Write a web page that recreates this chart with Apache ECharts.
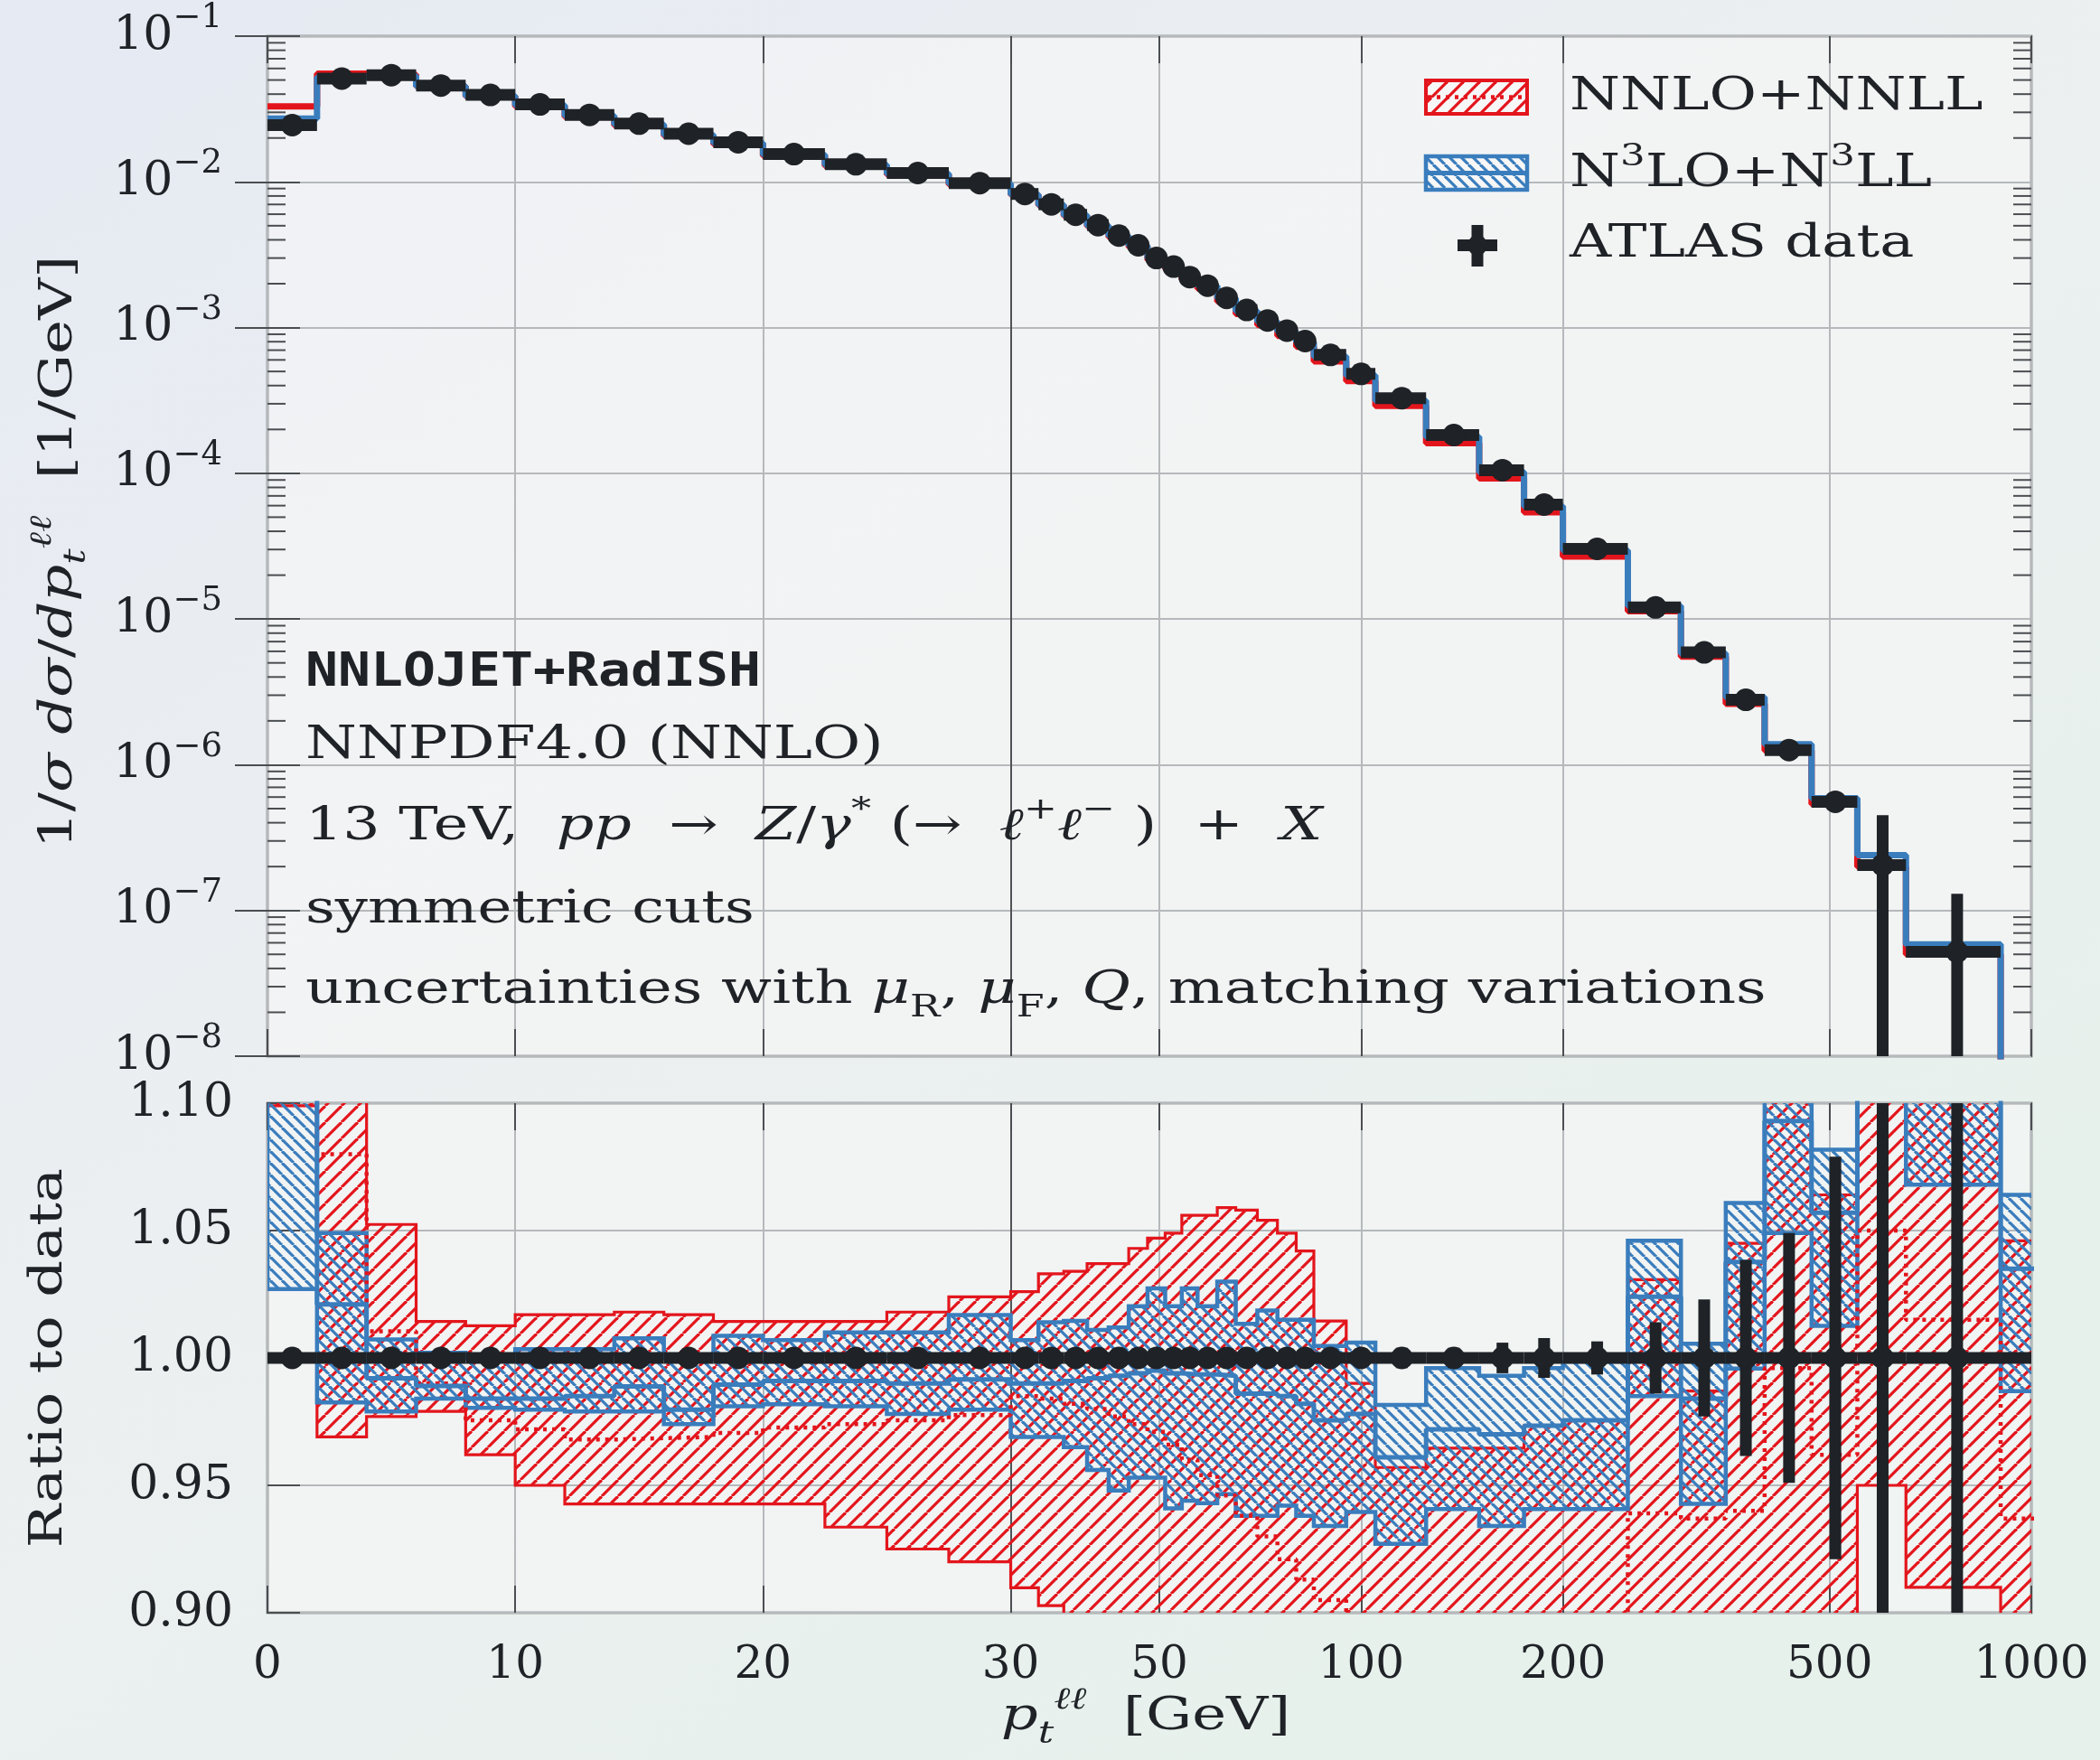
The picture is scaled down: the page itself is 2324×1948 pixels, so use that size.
<!DOCTYPE html>
<html>
<head>
<meta charset="utf-8">
<title>Z boson pT spectrum: NNLOJET+RadISH vs ATLAS</title>
<script src="https://cdn.jsdelivr.net/npm/echarts@6/dist/echarts.min.js"></script>
<style>
html, body { margin: 0; padding: 0; }
#chart { width: 2324px; height: 1948px; }
</style>
</head>
<body>
<div id="chart"></div>
<script>
// bin edges in GeV (last bin 900-2500 runs off the plot)
var edges = [0, 2, 4, 6, 8, 10, 12, 14, 16, 18, 20, 22.5, 25, 27.5, 30,
  33, 36, 39, 42, 45, 48, 51, 54, 57, 61, 65, 70, 75, 80, 85,
  95, 105, 125, 150, 175, 200, 250, 300, 350, 400, 470, 550, 650, 900, 2500];

// ATLAS data, 1/sigma dsigma/dpt [1/GeV]
var atlasVal = [0.0245, 0.0511, 0.0540, 0.0458, 0.0395, 0.0340, 0.0288, 0.0251, 0.0214, 0.0187,
  0.0155, 0.0132, 0.0115, 0.0098,
  0.00826, 0.00701, 0.00594, 0.00505, 0.00428, 0.00367, 0.00300, 0.00262, 0.00222,
  0.00194, 0.00160, 0.00132, 0.00112, 0.000953, 0.000808,
  0.000649, 0.000481, 0.000328, 0.000183, 0.000105, 6.1e-5,
  3.03e-5, 1.2e-5, 5.9e-6, 2.79e-6, 1.26e-6, 5.57e-7, 2.05e-7, 5.2e-8, 3e-9];
// relative data uncertainty
var atlasErr = [0.003, 0.003, 0.003, 0.003, 0.003, 0.003, 0.003, 0.003, 0.003, 0.003,
  0.003, 0.003, 0.003, 0.003,
  0.003, 0.003, 0.003, 0.003, 0.003, 0.003, 0.003, 0.003, 0.003,
  0.003, 0.003, 0.003, 0.003, 0.003, 0.003,
  0.003, 0.003, 0.004, 0.004, 0.006, 0.0078,
  0.0065, 0.014, 0.023, 0.0385, 0.049, 0.079, 1.2, 1.5, 2.0];

// theory in the upper panel
var nnllTop = [0.033, 0.0552, 0.0546, 0.0453, 0.0385, 0.0330, 0.0279, 0.0243, 0.0207, 0.01815,
  0.01508, 0.01286, 0.01122, 0.00958,
  0.00814, 0.00690, 0.00583, 0.00495, 0.00418, 0.00357, 0.00291, 0.00253, 0.00213,
  0.00185, 0.00151, 0.00124, 0.00104, 0.000878, 0.000738,
  0.000587, 0.000430, 0.000290, 0.000161, 9.24e-5, 5.40e-5,
  2.68e-5, 1.13e-5, 5.53e-6, 2.62e-6, 1.25e-6, 5.36e-7, 2.0e-7, 5.0e-8, 2.5e-9];
var n3llTop = [0.0272, 0.0522, 0.0536, 0.0453, 0.0389, 0.0335, 0.0284, 0.0248, 0.0210, 0.0185,
  0.01536, 0.01308, 0.01139, 0.00972,
  0.00818, 0.00694, 0.00589, 0.00501, 0.00425, 0.00365, 0.00299, 0.00260, 0.00221,
  0.00193, 0.00159, 0.00130, 0.00110, 0.000939, 0.000793,
  0.000633, 0.000470, 0.000315, 0.000178, 0.000102, 5.94e-5,
  2.96e-5, 1.23e-5, 5.81e-6, 2.90e-6, 1.38e-6, 5.89e-7, 2.4e-7, 5.86e-8, 3e-9];

// ratio to data: NNLO+NNLL band
var nnllUp = [1.45, 1.14, 1.0524, 1.0143, 1.0126, 1.017, 1.017, 1.018, 1.017, 1.0143,
  1.0143, 1.0143, 1.018, 1.024,
  1.026, 1.033, 1.034, 1.037, 1.037, 1.043, 1.047, 1.049, 1.056,
  1.056, 1.059, 1.058, 1.054, 1.049, 1.042,
  1.0145, 0.990, 0.957, 0.9646, 0.9646, 0.9734,
  0.9755, 1.0307, 0.987, 1.045, 1.12, 1.064, 1.2, 1.2, 1.046];
var nnllLo = [1.099, 0.969, 0.977, 0.979, 0.962, 0.950, 0.9427, 0.9427, 0.9427, 0.9427,
  0.9427, 0.9336, 0.925, 0.920,
  0.9098, 0.9028, 0.85, 0.85, 0.85, 0.85, 0.85, 0.85, 0.85,
  0.85, 0.85, 0.85, 0.85, 0.85, 0.85,
  0.85, 0.85, 0.85, 0.85, 0.85, 0.85,
  0.85, 0.85, 0.85, 0.85, 0.85, 0.85, 0.950, 0.910, 0.85];
var nnllMid = [1.30, 1.08, 1.0105, 0.990, 0.9755, 0.972, 0.968, 0.9685, 0.969, 0.9706,
  0.9727, 0.974, 0.9755, 0.9776,
  0.985, 0.984, 0.982, 0.980, 0.977, 0.974, 0.971, 0.966, 0.960,
  0.954, 0.946, 0.938, 0.930, 0.921, 0.913,
  0.905, 0.895, 0.885, 0.88, 0.88, 0.885,
  0.885, 0.939, 0.937, 0.94, 0.996, 0.962, 1.05, 1.015, 0.937];

// ratio to data: N3LO+N3LL band
var n3llUp = [1.18, 1.049, 1.0073, 1.002, 1.000, 1.0035, 1.0035, 1.0077, 1.000, 1.0087,
  1.007, 1.010, 1.010, 1.0168,
  1.007, 1.014, 1.0145, 1.011, 1.012, 1.0203, 1.0273, 1.0203, 1.0273,
  1.0203, 1.030, 1.0134, 1.0186, 1.015, 1.015,
  1.0047, 1.006, 0.9816, 0.996, 0.993, 0.996,
  0.9986, 1.046, 1.0056, 1.0608, 1.115, 1.0817, 1.20, 1.14, 1.064];
var n3llLo = [1.027, 0.9825, 0.979, 0.984, 0.9804, 0.9797, 0.979, 0.979, 0.974, 0.981,
  0.9818, 0.981, 0.978, 0.9797,
  0.969, 0.969, 0.965, 0.956, 0.948, 0.953, 0.953, 0.941, 0.944,
  0.943, 0.9465, 0.938, 0.938, 0.942, 0.938,
  0.934, 0.9395, 0.927, 0.9407, 0.934, 0.9407,
  0.9407, 0.985, 0.9427, 0.9958, 1.049, 1.0126, 1.11, 1.068, 0.987];
var n3llMid = [1.11, 1.021, 0.992, 0.989, 0.984, 0.984, 0.985, 0.9888, 0.9797, 0.9895,
  0.991, 0.991, 0.990, 0.9916,
  0.990, 0.990, 0.991, 0.992, 0.993, 0.994, 0.995, 0.994, 0.9935,
  0.9935, 0.993, 0.986, 0.986, 0.985, 0.982,
  0.9755, 0.978, 0.961, 0.972, 0.970, 0.9734,
  0.9755, 1.024, 0.984, 1.0377, 1.093, 1.057, 1.15, 1.105, 1.035];

var xTickLabels = [0, 10, 20, 30, 50, 100, 200, 500, 1000];

// x axis: linear up to 30 GeV, logarithmic above
var LIN_MAX = 30, K = 27.05;
function tx(x) { return x <= LIN_MAX ? x : LIN_MAX + K * Math.log10(x / LIN_MAX); }
function fromT(t) { return t <= LIN_MAX ? t : LIN_MAX * Math.pow(10, (t - LIN_MAX) / K); }
var TMAX = tx(1000);
var xTickT = xTickLabels.map(tx);

var RED = '#e3151c', BLUE = '#3a7dbd', INK = '#1f2226', GRID = '#b6b9bb', FRAME = '#4b4e51';
var SERIF = '"DejaVu Serif", "Liberation Serif", serif';
var MONO = '"DejaVu Sans Mono", "Liberation Mono", monospace';
var SX = 1.28;

function hatch(color, size, width, dir) {
  var c = document.createElement('canvas');
  c.width = size; c.height = size;
  var ctx = c.getContext('2d');
  ctx.strokeStyle = color;
  ctx.lineWidth = width;
  for (var k = -1; k <= 1; k++) {
    ctx.beginPath();
    if (dir > 0) { ctx.moveTo(k * size, size); ctx.lineTo(k * size + size, 0); }
    else { ctx.moveTo(k * size, 0); ctx.lineTo(k * size + size, size); }
    ctx.stroke();
  }
  return { image: c, repeat: 'repeat' };
}
var redHatch = hatch(RED, 18, 3.2, 1);
var blueHatch = hatch(BLUE, 13, 3.2, -1);

function stepPoints(vals) {
  var pts = [];
  for (var i = 0; i < vals.length; i++) {
    pts.push([tx(edges[i]), vals[i]]);
    pts.push([tx(edges[i + 1]), vals[i]]);
  }
  return pts;
}

function bandSeries(up, lo, fill, stroke, lw, z) {
  return {
    type: 'custom', xAxisIndex: 1, yAxisIndex: 2, clip: true, silent: true, z: z,
    data: [[0, 1]],
    renderItem: function (params, api) {
      var top = [], bot = [];
      for (var i = 0; i < up.length; i++) {
        top.push(api.coord([tx(edges[i]), up[i]]), api.coord([tx(edges[i + 1]), up[i]]));
        bot.push(api.coord([tx(edges[i]), lo[i]]), api.coord([tx(edges[i + 1]), lo[i]]));
      }
      var outline = top.concat(bot.slice().reverse());
      return {
        type: 'group',
        children: [
          { type: 'polygon', shape: { points: outline }, style: { fill: fill } },
          { type: 'polygon', shape: { points: outline }, style: { fill: 'none', stroke: stroke, lineWidth: lw } }
        ]
      };
    }
  };
}

function dataMarks(ratio) {
  return {
    type: 'custom', xAxisIndex: ratio ? 1 : 0, yAxisIndex: ratio ? 2 : 0, clip: true, silent: true, z: 8,
    data: atlasVal.map(function (v, i) { return [tx((edges[i] + edges[i + 1]) / 2), ratio ? 1 : v]; }),
    renderItem: function (params, api) {
      var i = params.dataIndex;
      var y = api.value(1), xm = api.value(0);
      var e = atlasErr[i];
      var hi = y * (1 + e);
      var lo = ratio ? y * (1 - e) : Math.max(y * (1 - e), 1e-12);
      var a = api.coord([tx(edges[i]), y]), b = api.coord([tx(edges[i + 1]), y]);
      var c = api.coord([xm, y]), t = api.coord([xm, hi]), d = api.coord([xm, lo]);
      return {
        type: 'group',
        children: [
          { type: 'line', shape: { x1: a[0], y1: a[1], x2: b[0], y2: b[1] }, style: { stroke: INK, lineWidth: 13 } },
          { type: 'line', shape: { x1: t[0], y1: t[1], x2: d[0], y2: d[1] }, style: { stroke: INK, lineWidth: 13 } },
          { type: 'circle', shape: { cx: c[0], cy: c[1], r: 12.5 }, style: { fill: INK } }
        ]
      };
    }
  };
}

// log minor ticks for the upper panel
var minorVals = [];
for (var n = -8; n <= -2; n++) {
  for (var k = 2; k <= 9; k++) minorVals.push(k * Math.pow(10, n));
}

var richMath = {
  n: { fontSize: 50, fontFamily: SERIF, color: INK, lineHeight: 72 },
  i: { fontSize: 50, fontFamily: SERIF, fontStyle: 'italic', color: INK, lineHeight: 72 },
  sp: { fontSize: 34, fontFamily: SERIF, color: INK, lineHeight: 44, verticalAlign: 'top' },
  spi: { fontSize: 34, fontFamily: SERIF, fontStyle: 'italic', color: INK, lineHeight: 44, verticalAlign: 'top' },
  sb: { fontSize: 34, fontFamily: SERIF, color: INK, lineHeight: 40, verticalAlign: 'bottom' },
  sbi: { fontSize: 34, fontFamily: SERIF, fontStyle: 'italic', color: INK, lineHeight: 40, verticalAlign: 'bottom' }
};

function label(x, y, text, sx, extra, rot) {
  var st = { text: text, fontSize: 50, fontFamily: SERIF, fill: INK, verticalAlign: 'middle', align: 'left', rich: richMath };
  if (extra) for (var key in extra) st[key] = extra[key];
  return { type: 'text', x: x, y: y, scaleX: sx, rotation: rot || 0, z: 100, style: st };
}

var option = {
  animation: false,
  backgroundColor: new echarts.graphic.LinearGradient(0, 0, 0.6, 1, [
    { offset: 0, color: '#e5eaf3' }, { offset: 0.5, color: '#eceff1' }, { offset: 1, color: '#e7f1ec' }
  ]),
  grid: [
    { left: 296, right: 76, top: 40, height: 1129, show: true, backgroundColor: 'rgba(246,247,247,0.6)', borderColor: FRAME, borderWidth: 2.5 },
    { left: 296, right: 76, top: 1221, height: 564, show: true, backgroundColor: 'rgba(246,247,247,0.6)', borderColor: FRAME, borderWidth: 2.5 }
  ],
  xAxis: [
    {
      gridIndex: 0, type: 'value', min: 0, max: TMAX,
      axisLine: { show: false },
      axisTick: { customValues: xTickT, inside: true, length: 30, lineStyle: { color: FRAME, width: 2 } },
      axisLabel: { show: false },
      splitLine: { show: true, lineStyle: { color: [GRID, GRID, GRID, '#505356', GRID, GRID, GRID, GRID, GRID], width: 2 } }
    },
    {
      gridIndex: 1, type: 'value', min: 0, max: TMAX,
      axisLine: { show: false },
      axisTick: { customValues: xTickT, inside: true, length: 30, lineStyle: { color: FRAME, width: 2 } },
      axisLabel: {
        customValues: xTickT, margin: 34, fontSize: 50, fontFamily: SERIF, color: INK,
        formatter: function (v) { return String(Math.round(fromT(v))); }
      },
      splitLine: { show: true, lineStyle: { color: [GRID, GRID, GRID, '#505356', GRID, GRID, GRID, GRID, GRID], width: 2 } }
    },
    {
      gridIndex: 0, type: 'value', min: 0, max: TMAX, position: 'top',
      axisLine: { show: false }, axisLabel: { show: false }, splitLine: { show: false },
      axisTick: { customValues: xTickT, inside: true, length: 30, lineStyle: { color: FRAME, width: 2 } }
    },
    {
      gridIndex: 1, type: 'value', min: 0, max: TMAX, position: 'top',
      axisLine: { show: false }, axisLabel: { show: false }, splitLine: { show: false },
      axisTick: { customValues: xTickT, inside: true, length: 30, lineStyle: { color: FRAME, width: 2 } }
    }
  ],
  yAxis: [
    {
      gridIndex: 0, type: 'log', logBase: 10, min: 1e-8, max: 0.1, splitNumber: 7,
      axisLine: { show: false },
      axisTick: { inside: true, length: 36, lineStyle: { color: FRAME, width: 2 } },
      splitLine: { show: true, lineStyle: { color: GRID, width: 2 } },
      axisLabel: {
        margin: 50,
        formatter: function (v) {
          var e = Math.round(Math.log10(v));
          return '{b|10}{s|\u2212' + (-e) + '}';
        },
        rich: {
          b: { fontSize: 52, fontFamily: SERIF, color: INK, lineHeight: 76 },
          s: { fontSize: 37, fontFamily: SERIF, color: INK, lineHeight: 40, verticalAlign: 'top' }
        }
      }
    },
    {
      gridIndex: 0, type: 'log', logBase: 10, min: 1e-8, max: 0.1, splitNumber: 7, position: 'right',
      axisLine: { show: false }, axisLabel: { show: false }, splitLine: { show: false },
      axisTick: { inside: true, length: 36, lineStyle: { color: FRAME, width: 2 } }
    },
    {
      gridIndex: 1, type: 'value', min: 0.9, max: 1.1, interval: 0.05,
      axisLine: { show: false },
      axisTick: { inside: true, length: 36, lineStyle: { color: FRAME, width: 2 } },
      splitLine: { show: true, lineStyle: { color: GRID, width: 2 } },
      axisLabel: {
        margin: 38, fontSize: 52, fontFamily: SERIF, color: INK,
        formatter: function (v) { return v.toFixed(2); }
      }
    }
  ],
  series: [
    // upper panel
    {
      type: 'line', xAxisIndex: 0, yAxisIndex: 0, showSymbol: false, silent: true, z: 3,
      data: stepPoints(nnllTop), lineStyle: { color: RED, width: 7 }
    },
    {
      type: 'line', xAxisIndex: 0, yAxisIndex: 0, showSymbol: false, silent: true, z: 4,
      data: stepPoints(n3llTop), lineStyle: { color: BLUE, width: 7 }
    },
    dataMarks(false),
    {
      type: 'custom', xAxisIndex: 0, yAxisIndex: 0, silent: true, z: 9,
      data: minorVals.map(function (v) { return [0, v]; }),
      renderItem: function (params, api) {
        var v = api.value(1);
        var pl = api.coord([0, v]), pr = api.coord([TMAX, v]);
        return {
          type: 'group',
          children: [
            { type: 'line', shape: { x1: pl[0], y1: pl[1], x2: pl[0] + 20, y2: pl[1] }, style: { stroke: FRAME, lineWidth: 2 } },
            { type: 'line', shape: { x1: pr[0] - 20, y1: pr[1], x2: pr[0], y2: pr[1] }, style: { stroke: FRAME, lineWidth: 2 } }
          ]
        };
      }
    },
    // ratio panel
    bandSeries(nnllUp, nnllLo, redHatch, RED, 3.2, 3),
    bandSeries(n3llUp, n3llLo, blueHatch, BLUE, 4.5, 4),
    {
      type: 'line', xAxisIndex: 1, yAxisIndex: 2, showSymbol: false, silent: true, z: 5,
      data: stepPoints(nnllMid), lineStyle: { color: RED, width: 4.5, type: [4, 6] }
    },
    {
      type: 'line', xAxisIndex: 1, yAxisIndex: 2, showSymbol: false, silent: true, z: 5,
      data: stepPoints(n3llMid), lineStyle: { color: BLUE, width: 5 }
    },
    dataMarks(true)
  ],
  graphic: [
    // axis titles
    label(66, 611, '{n|1/}{i|\u03c3 d\u03c3}{n|/}{i|dp}{sbi|t}{spi|\u2113\u2113}{n|  [1/GeV]}', SX,
      { align: 'center' }, Math.PI / 2),
    label(55, 1503, 'Ratio to data', SX, { align: 'center' }, Math.PI / 2),
    label(1268, 1901, '{i|p}{sbi|t}{spi|\u2113\u2113}{n|  [GeV]}', SX, { align: 'center' }),
    // annotation block
    { type: 'text', x: 338, y: 745, scaleX: 1.15, z: 100,
      style: { text: 'NNLOJET+RadISH', font: 'bold 52px ' + MONO, fill: INK, verticalAlign: 'middle' } },
    label(338, 826, 'NNPDF4.0 (NNLO)', 1.3),
    label(338, 916, '{n|13 TeV,  }{i|pp}{n|  \u2192  }{i|Z}{n|/}{i|\u03b3}{sp|*}{n| (\u2192  }{i|\u2113}{sp|+}{i|\u2113}{sp|\u2212}{n| )  +  }{i|X}', 1.3),
    label(338, 1008, 'symmetric cuts', SX),
    label(338, 1097, '{n|uncertainties with }{i|\u03bc}{sb|R}{n|, }{i|\u03bc}{sb|F}{n|, }{i|Q}{n|, matching variations}', 1.31),
    // legend
    { type: 'rect', z: 100, shape: { x: 1578, y: 89, width: 112, height: 37 }, style: { fill: '#f7f7f7' } },
    { type: 'rect', z: 101, shape: { x: 1578, y: 89, width: 112, height: 37 }, style: { fill: redHatch, stroke: RED, lineWidth: 4 } },
    { type: 'line', z: 102, shape: { x1: 1580, y1: 107.5, x2: 1688, y2: 107.5 }, style: { stroke: RED, lineWidth: 4.5, lineDash: [4, 6] } },
    { type: 'rect', z: 100, shape: { x: 1578, y: 173, width: 112, height: 37 }, style: { fill: '#f7f7f7' } },
    { type: 'rect', z: 101, shape: { x: 1578, y: 173, width: 112, height: 37 }, style: { fill: blueHatch, stroke: BLUE, lineWidth: 4.5 } },
    { type: 'line', z: 102, shape: { x1: 1578, y1: 191.5, x2: 1690, y2: 191.5 }, style: { stroke: BLUE, lineWidth: 5 } },
    { type: 'rect', z: 101, shape: { x: 1613, y: 265, width: 44, height: 13 }, style: { fill: INK } },
    { type: 'rect', z: 101, shape: { x: 1628.5, y: 249, width: 13, height: 46 }, style: { fill: INK } },
    { type: 'circle', z: 101, shape: { cx: 1635, cy: 271.5, r: 11 }, style: { fill: INK } },
    label(1737, 108, 'NNLO+NNLL', SX),
    label(1737, 193, '{n|N}{sp|3}{n|LO+N}{sp|3}{n|LL}', SX),
    label(1737, 271, 'ATLAS data', SX)
  ]
};

var chart = echarts.init(document.getElementById('chart'));
chart.setOption(option);
</script>
</body>
</html>
